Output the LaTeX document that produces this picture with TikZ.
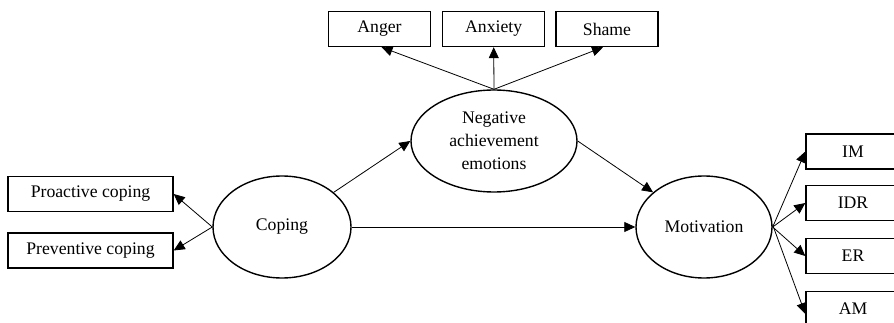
\documentclass[tikz,border=0pt]{standalone}
\usepackage{fontspec}
\setmainfont{Liberation Serif}
\usetikzlibrary{shapes.geometric,arrows.meta}
\begin{document}
\begin{tikzpicture}[x=1pt,y=-1pt,
  every node/.style={font=\fontsize{17.7}{23}\selectfont},
  boxnode/.style={draw,line width=1.4pt,rectangle,inner sep=0pt,minimum height=35pt},
  ellnode/.style={draw,line width=1.4pt,ellipse,inner sep=0pt,minimum height=102pt,align=center},
  arr/.style={line width=0.8pt,-{Triangle[length=11pt,width=10pt]}}]
\useasboundingbox (0,0) rectangle (894,323);
\clip (0,0) rectangle (894,323);
% latent variables
\node[ellnode,minimum width=138pt] (cop) at (282,227) {Coping};
\node[ellnode,minimum width=166pt] (nae) at (494,141) {Negative\\achievement\\emotions};
\node[ellnode,minimum width=136pt] (mot) at (704,227) {Motivation};
% indicators
\node[boxnode,minimum width=165pt] (pro) at (90.5,194) {Proactive coping};
\node[boxnode,minimum width=165pt] (pre) at (90.5,250.5) {Preventive coping};
\node[boxnode,minimum width=102pt] (ang) at (379.5,29) {Anger};
\node[boxnode,minimum width=102pt] (anx) at (493.7,29) {Anxiety};
\node[boxnode,minimum width=102pt] (sha) at (607,29) {Shame};
\node[boxnode,minimum width=94pt] (im) at (853,151.5) {IM};
\node[boxnode,minimum width=94pt] (idr) at (853,203) {IDR};
\node[boxnode,minimum width=94pt] (er) at (853,256) {ER};
\node[boxnode,minimum width=94pt] (am) at (853,309) {AM};
% connectors
\draw[arr] (cop.west) -- (pro.east);
\draw[arr] (cop.west) -- (pre.east);
\draw[arr] (nae.north) -- ([xshift=2pt]ang.south);
\draw[arr] (nae.north) -- (anx.south);
\draw[arr] (nae.north) -- ([xshift=-4pt]sha.south);
\draw[arr] (cop) -- (nae.west);
\draw[arr] (nae.east) -- (mot);
\draw[arr] (cop.east) -- (mot.west);
\draw[arr] (mot.east) -- (im.west);
\draw[arr] (mot.east) -- (idr.west);
\draw[arr] (mot.east) -- (er.west);
\draw[arr] ([yshift=2pt]mot.east) -- ([yshift=-5pt]am.west);
\end{tikzpicture}
\end{document}
